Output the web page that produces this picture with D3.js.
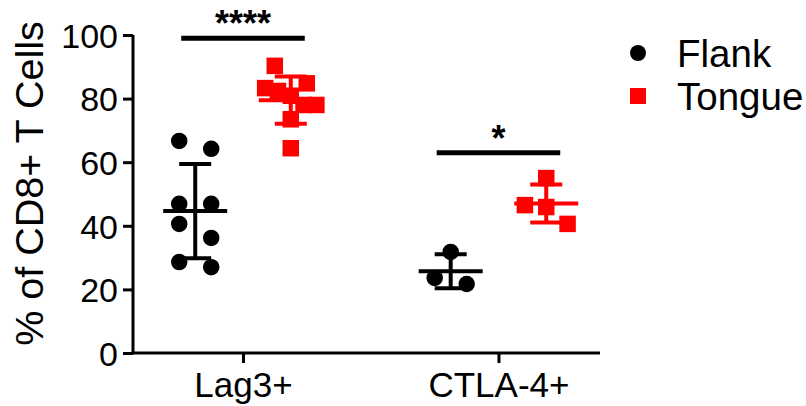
<!DOCTYPE html>
<html>
<head>
<meta charset="utf-8">
<script src="https://cdn.jsdelivr.net/npm/d3@7"></script>
<style>
  body { margin: 0; background: #fff; }
  svg { font-family: Arial, "Liberation Sans", sans-serif; }
</style>
</head>
<body>
<svg id="chart" width="806" height="406"></svg>
<script>
// values
var categories = ["Lag3+", "CTLA-4+"];
var groups = ["Flank", "Tongue"];
var colors = ["#000000", "#ff0000"];

var lag3Flank = [66.7, 64.2, 46.9, 46.9, 40.6, 36.2, 28.6, 27.0];
var lag3Tongue = [90.3, 84.8, 83.3, 82.4, 80.9, 78.0, 78.0, 73.5, 64.4];
var ctla4Flank = [31.8, 23.6, 21.7];
var ctla4Tongue = [55.0, 46.5, 45.9, 40.6];

var yTicks = [0, 20, 40, 60, 80, 100];
var significance = [
  { category: "Lag3+", label: "****", y: 99 },
  { category: "CTLA-4+", label: "*", y: 63 }
];

var series = [
  { category: "Lag3+", group: "Flank", values: lag3Flank },
  { category: "Lag3+", group: "Tongue", values: lag3Tongue },
  { category: "CTLA-4+", group: "Flank", values: ctla4Flank },
  { category: "CTLA-4+", group: "Tongue", values: ctla4Tongue }
];

var svg = d3.select("#chart");
var margin = { top: 35, right: 206, bottom: 53, left: 133 };
var W = 806, H = 406;

var y = d3.scaleLinear().domain([0, 100]).range([H - margin.bottom, margin.top]);
var x = d3.scalePoint().domain(categories)
  .range([margin.left, W - margin.right])
  .padding(0.414).align(0.52);
var sub = d3.scalePoint().domain(groups).range([-x.step() * 0.187, x.step() * 0.187]);
var color = d3.scaleOrdinal().domain(groups).range(colors);

var markerSize = 16.5;

// prism-like row layout: points close in value share a row and get spread sideways
function spread(values) {
  var sorted = values.slice().sort((a, b) => b - a);
  var rows = [], out = [];
  sorted.forEach(v => {
    var last = rows[rows.length - 1];
    if (last && y(v) - y(last[0]) < markerSize + 3) last.push(v);
    else rows.push([v]);
  });
  rows.forEach(r => {
    var n = r.length;
    var s = n === 1 ? 0 : Math.min(32, 64 / n);
    r.forEach((v, i) => out.push({ v: v, dx: (i - (n - 1) / 2) * s }));
  });
  return out;
}

// axes
var yAxis = svg.append("g")
  .attr("transform", `translate(${margin.left},0)`)
  .call(d3.axisLeft(y).tickValues(yTicks).tickSize(10).tickPadding(5));
var xAxis = svg.append("g")
  .attr("transform", `translate(0,${H - margin.bottom})`)
  .call(d3.axisBottom(x).tickSize(10).tickPadding(8).tickSizeOuter(0));
[yAxis, xAxis].forEach(a => {
  a.select(".domain").attr("stroke-width", 3).attr("d", null);
  a.selectAll(".tick line").attr("stroke-width", 3);
  a.selectAll("text").attr("font-size", 34).attr("fill", "#000");
});
xAxis.selectAll("text").attr("font-size", 35);
yAxis.select(".domain").attr("d", `M0,${y(0)}V${y(100)}`);
xAxis.select(".domain").attr("d", `M${margin.left - 1.5},0H${W - margin.right}`);
yAxis.selectAll(".tick text").attr("dy", "0.36em");
xAxis.selectAll(".tick text").attr("dy", "0.75em");

svg.append("text")
  .attr("transform", `translate(43,${(22 + 345) / 2}) rotate(-90)`)
  .attr("text-anchor", "middle")
  .attr("font-size", 39.5)
  .text("% of CD8+ T Cells");

// points, mean and SD
var g = svg.append("g");
series.forEach(s => {
  var cx = x(s.category) + sub(s.group);
  var c = color(s.group);
  var m = d3.mean(s.values), sd = d3.deviation(s.values);
  var pts = spread(s.values);

  if (s.group === "Flank") {
    g.selectAll(null).data(pts).enter().append("circle")
      .attr("cx", d => cx + d.dx).attr("cy", d => y(d.v))
      .attr("r", markerSize / 2).attr("fill", c);
  } else {
    g.selectAll(null).data(pts).enter().append("rect")
      .attr("x", d => cx + d.dx - markerSize / 2).attr("y", d => y(d.v) - markerSize / 2)
      .attr("width", markerSize).attr("height", markerSize).attr("fill", c);
  }

  var eg = g.append("g").attr("stroke", c).attr("stroke-width", 4).attr("fill", "none");
  eg.append("line").attr("x1", cx).attr("x2", cx).attr("y1", y(m + sd)).attr("y2", y(m - sd));
  eg.append("line").attr("x1", cx - 16).attr("x2", cx + 16).attr("y1", y(m + sd)).attr("y2", y(m + sd));
  eg.append("line").attr("x1", cx - 16).attr("x2", cx + 16).attr("y1", y(m - sd)).attr("y2", y(m - sd));
  eg.append("line").attr("x1", cx - 32).attr("x2", cx + 32).attr("y1", y(m)).attr("y2", y(m));
});

// significance bars
significance.forEach(s => {
  var x1 = x(s.category) + sub("Flank") - 14;
  var x2 = x(s.category) + sub("Tongue") + 14;
  svg.append("line").attr("x1", x1).attr("x2", x2)
    .attr("y1", y(s.y)).attr("y2", y(s.y))
    .attr("stroke", "#000").attr("stroke-width", 5);
  svg.append("text")
    .attr("x", (x1 + x2) / 2).attr("y", y(s.y) - 2)
    .attr("text-anchor", "middle").attr("font-size", 36).attr("font-weight", "bold")
    .text(s.label);
});

// legend
var legend = svg.append("g").attr("transform", "translate(638,53)");
groups.forEach((grp, i) => {
  var lg = legend.append("g").attr("transform", `translate(0,${i * 43})`);
  if (grp === "Flank") lg.append("circle").attr("r", 8).attr("fill", color(grp));
  else lg.append("rect").attr("x", -8).attr("y", -8).attr("width", 16).attr("height", 16).attr("fill", color(grp));
  lg.append("text").attr("x", 39).attr("y", 14).attr("font-size", 38.5).text(grp);
});
</script>
</body>
</html>
